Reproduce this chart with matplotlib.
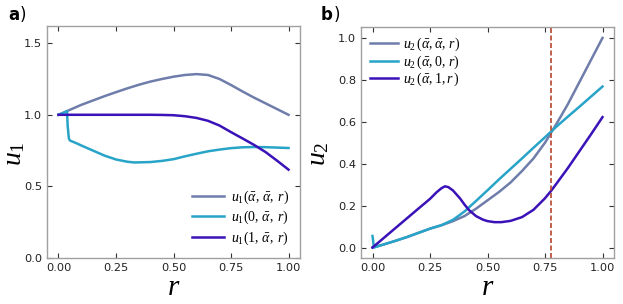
import matplotlib.pyplot as plt

plt.rcParams['mathtext.fontset'] = 'custom'
plt.rcParams['mathtext.rm'] = 'Liberation Serif'
plt.rcParams['mathtext.it'] = 'Liberation Serif:italic'
plt.rcParams['font.family'] = 'DejaVu Sans'

C_GRAY = '#6f7dab'
C_CYAN = '#28a4c8'
C_INDIGO = '#3a12b8'
C_RED = '#b8452d'
C_FRAME = '#a0a0a0'

# panel a: u1
r_a1 = [0.0, 0.05, 0.1, 0.15, 0.2, 0.25, 0.3, 0.35, 0.4, 0.45, 0.5, 0.55, 0.6, 0.65, 0.7, 0.75, 0.8, 0.85, 0.9, 0.95, 1.0]
u_a1 = [1.0, 1.035, 1.07, 1.10, 1.13, 1.158, 1.185, 1.21, 1.232, 1.25, 1.266, 1.278, 1.284, 1.278, 1.25, 1.208, 1.163, 1.12, 1.08, 1.04, 1.0]

r_a2 = [0.0, 0.02, 0.037, 0.04, 0.045, 0.05, 0.08, 0.1, 0.15, 0.2, 0.25, 0.3, 0.33, 0.4, 0.45, 0.5, 0.55, 0.6, 0.65, 0.7, 0.75, 0.8, 0.85, 0.9, 0.95, 1.0]
u_a2 = [1.0, 1.012, 1.025, 0.92, 0.835, 0.82, 0.80, 0.785, 0.75, 0.715, 0.688, 0.672, 0.667, 0.67, 0.678, 0.69, 0.71, 0.728, 0.745, 0.757, 0.767, 0.773, 0.775, 0.774, 0.771, 0.768]

r_a3 = [0.0, 0.1, 0.2, 0.3, 0.4, 0.45, 0.5, 0.55, 0.6, 0.65, 0.7, 0.75, 0.8, 0.85, 0.9, 0.95, 1.0]
u_a3 = [1.0, 1.0, 1.0, 1.0, 1.0, 0.999, 0.997, 0.99, 0.978, 0.958, 0.925, 0.879, 0.835, 0.79, 0.74, 0.68, 0.617]

# panel b: u2
r_b1 = [0.0, 0.05, 0.1, 0.15, 0.2, 0.25, 0.3, 0.35, 0.4, 0.45, 0.5, 0.55, 0.6, 0.65, 0.7, 0.75, 0.8, 0.85, 0.9, 0.95, 1.0]
u_b1 = [0.0, 0.015, 0.032, 0.05, 0.07, 0.09, 0.106, 0.126, 0.15, 0.185, 0.225, 0.265, 0.31, 0.365, 0.425, 0.5, 0.59, 0.685, 0.79, 0.895, 1.0]

r_b2 = [0.0, 0.003, 0.006, 0.05, 0.1, 0.15, 0.2, 0.25, 0.3, 0.35, 0.4, 0.45, 0.5, 0.55, 0.6, 0.65, 0.7, 0.75, 0.8, 0.85, 0.9, 0.95, 1.0]
u_b2 = [0.055, 0.03, 0.0, 0.015, 0.032, 0.05, 0.07, 0.09, 0.107, 0.132, 0.172, 0.222, 0.273, 0.325, 0.375, 0.425, 0.476, 0.526, 0.577, 0.625, 0.672, 0.72, 0.768]

r_b3 = [0.0, 0.1, 0.2, 0.25, 0.28, 0.3, 0.315, 0.33, 0.35, 0.38, 0.4, 0.42, 0.45, 0.48, 0.5, 0.53, 0.56, 0.6, 0.65, 0.7, 0.75, 0.777, 0.8, 0.85, 0.9, 0.95, 1.0]
u_b3 = [0.0, 0.093, 0.186, 0.232, 0.265, 0.283, 0.292, 0.288, 0.272, 0.235, 0.205, 0.178, 0.15, 0.133, 0.126, 0.121, 0.121, 0.127, 0.145, 0.18, 0.235, 0.271, 0.305, 0.38, 0.46, 0.54, 0.622]

r_dash = 0.778

lab_a = [r'$u_1(\bar{\alpha},\,\bar{\alpha},\;r)$', r'$u_1(0,\,\bar{\alpha},\;r)$', r'$u_1(1,\,\bar{\alpha},\;r)$']
lab_b = [r'$u_2\,(\bar{\alpha},\bar{\alpha},\,r)$', r'$u_2\,(\bar{\alpha},0,\,r)$', r'$u_2\,(\bar{\alpha},1,r\,)$']


def style(ax, xt, yt, ylim):
    ax.set_xlim(-0.05, 1.05)
    ax.set_ylim(*ylim)
    ax.set_xticks(xt)
    ax.set_yticks(yt)
    ax.set_xticklabels(['%.2f' % v for v in xt])
    ax.set_yticklabels(['%.1f' % v for v in yt])
    ax.tick_params(direction='in', length=3.5, width=0.8, color='#333333',
                   labelsize=8.2, top=True, right=True, pad=3.5, labelcolor='#222222')
    for s in ax.spines.values():
        s.set_color(C_FRAME)
        s.set_linewidth(1.0)


fig = plt.figure(figsize=(6.23, 3.04), dpi=100)
ax1 = fig.add_axes([47 / 623, 46 / 304, 253 / 623, 232 / 304])
ax2 = fig.add_axes([361 / 623, 46 / 304, 253 / 623, 231 / 304])

ax1.plot(r_a1, u_a1, color=C_GRAY, lw=1.8, label=lab_a[0])
ax1.plot(r_a2, u_a2, color=C_CYAN, lw=1.8, label=lab_a[1])
ax1.plot(r_a3, u_a3, color=C_INDIGO, lw=1.8, label=lab_a[2])
style(ax1, [0.0, 0.25, 0.5, 0.75, 1.0], [0.0, 0.5, 1.0, 1.5], (0.0, 1.62))
ax1.set_xlabel(r'$r$', fontsize=21, labelpad=0)
ax1.set_ylabel(r'$u_1$', fontsize=20)
ax1.yaxis.set_label_coords(-0.077, 0.45)
ax1.legend(loc='lower right', frameon=False, fontsize=10, handlelength=2.3,
           handletextpad=0.5, labelspacing=0.22, borderaxespad=0.4)
fig.text(8 / 623, 1 - 15 / 304, 'a', fontsize=12, fontweight='bold', va='center')
fig.text(20 / 623, 1 - 15 / 304, ')', fontsize=12, va='center')

ax2.plot(r_b1, u_b1, color=C_GRAY, lw=1.8, label=lab_b[0])
ax2.plot(r_b2, u_b2, color=C_CYAN, lw=1.8, label=lab_b[1])
ax2.plot(r_b3, u_b3, color=C_INDIGO, lw=1.8, label=lab_b[2])
ax2.axvline(r_dash, color=C_RED, lw=1.2, ls=(0, (3, 1.5)))
style(ax2, [0.0, 0.25, 0.5, 0.75, 1.0], [0.0, 0.2, 0.4, 0.6, 0.8, 1.0], (-0.05, 1.052))
ax2.set_xlabel(r'$r$', fontsize=21, labelpad=0)
ax2.set_ylabel(r'$u_2$', fontsize=20)
ax2.yaxis.set_label_coords(-0.119, 0.45)
ax2.legend(loc='upper left', frameon=False, fontsize=10, handlelength=2.0,
           handletextpad=0.4, labelspacing=0.0, borderaxespad=0.25)
fig.text(321 / 623, 1 - 15 / 304, 'b', fontsize=12, fontweight='bold', va='center')
fig.text(334 / 623, 1 - 15 / 304, ')', fontsize=12, va='center')

fig.savefig('out.png', dpi=100)
